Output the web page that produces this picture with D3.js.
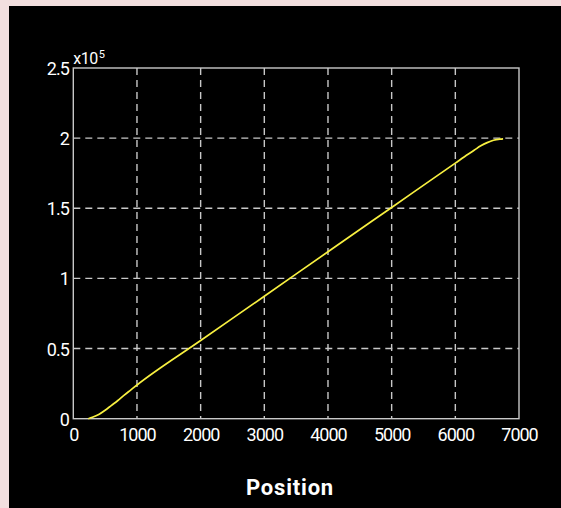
<!DOCTYPE html>
<html>
<head>
<meta charset="utf-8">
<script src="https://cdn.jsdelivr.net/npm/d3@7"></script>
<style>
  body { margin: 0; background: #f2dfdf; }
  svg { display: block; }
</style>
</head>
<body>
<svg id="canvas1" width="561" height="508"></svg>
<script>
// data (y in units of 1e5)
const positions = [235, 300, 400, 500, 600, 700, 800, 900, 1000, 2000, 3000, 4000, 5000, 6000, 6200, 6300, 6400, 6500, 6600, 6700, 6750]
const values = [0, 0.01, 0.03, 0.06, 0.095, 0.13, 0.168, 0.204, 0.24, 0.557, 0.873, 1.19, 1.506, 1.822, 1.885, 1.915, 1.945, 1.968, 1.985, 1.993, 1.995]
const xTicks = [0, 1000, 2000, 3000, 4000, 5000, 6000, 7000]
const yTicks = [0, 0.5, 1, 1.5, 2, 2.5]
const xLabel = "Position"

// plot box
var margin = { top: 68, right: 42, bottom: 89.3, left: 73.3 },
    width = 561 - margin.left - margin.right,
    height = 508 - margin.top - margin.bottom;

var svg = d3.select("#canvas1")

// black panel on the pink page
svg.append("rect")
    .attr("x", 9).attr("y", 6)
    .attr("width", 552).attr("height", 502)
    .attr("fill", "#000")

var g = svg.append("g")
    .attr("transform", "translate(" + margin.left + "," + margin.top + ")");

var x = d3.scaleLinear().domain([0, 7000]).range([0, width]);
var y = d3.scaleLinear().domain([0, 2.5]).range([height, 0]);

const gridColor = "#c8c8c8"
const fontFam = "Roboto, 'Liberation Sans', sans-serif"

// dashed grid
g.selectAll(".vgrid")
    .data(xTicks.slice(1, -1))
    .enter().append("line")
    .attr("x1", d => x(d)).attr("x2", d => x(d))
    .attr("y1", 0).attr("y2", height)
    .attr("stroke", gridColor)
    .attr("stroke-width", 1.4)
    .attr("stroke-dasharray", "7,5")

g.selectAll(".hgrid")
    .data(yTicks.slice(1, -1))
    .enter().append("line")
    .attr("y1", d => y(d)).attr("y2", d => y(d))
    .attr("x1", 0).attr("x2", width)
    .attr("stroke", gridColor)
    .attr("stroke-width", 1.4)
    .attr("stroke-dasharray", "7,5")

// box
g.append("rect")
    .attr("width", width).attr("height", height)
    .attr("fill", "none")
    .attr("stroke", gridColor)
    .attr("stroke-width", 1.4)

// x axis
var xAxis = g.append("g")
    .attr("transform", "translate(0," + height + ")")
    .call(d3.axisBottom(x).tickValues(xTicks).tickSize(0).tickPadding(0).tickFormat(d3.format("d")))
xAxis.select(".domain").remove()
xAxis.selectAll("text")
    .attr("y", 22)
    .attr("dy", 0)
    .attr("fill", "#fff")
    .style("font-family", fontFam)
    .style("font-size", "18px")
    .style("letter-spacing", "-1px")

// y axis
var yAxis = g.append("g")
    .call(d3.axisLeft(y).tickValues(yTicks).tickSize(0).tickPadding(0).tickFormat(d => d))
yAxis.select(".domain").remove()
yAxis.selectAll("text")
    .attr("x", -4.5)
    .attr("dy", 6.5)
    .attr("fill", "#fff")
    .style("font-family", fontFam)
    .style("font-size", "18px")
    .style("letter-spacing", "-1px")

// exponent
var expo = g.append("text")
    .attr("x", 0).attr("y", -4.5)
    .attr("fill", "#fff")
    .style("font-family", fontFam)
    .style("font-size", "16px")
    .style("letter-spacing", "-0.5px")
expo.append("tspan").text("x10")
expo.append("tspan").attr("dy", -6).attr("dx", 1).style("font-size", "11px").text("5")

// the curve
var line = d3.line()
    .x((d, i) => x(positions[i]))
    .y(d => y(d))
    .curve(d3.curveMonotoneX)

g.append("path")
    .datum(values)
    .attr("d", line)
    .attr("fill", "none")
    .attr("stroke", "#f8f040")
    .attr("stroke-width", 1.7)

// axis title
svg.append("text")
    .attr("x", 290).attr("y", 495)
    .attr("text-anchor", "middle")
    .attr("fill", "#fff")
    .style("font-family", fontFam)
    .style("font-weight", "bold")
    .style("font-size", "22px")
    .style("letter-spacing", "0.8px")
    .text(xLabel)
</script>
</body>
</html>
